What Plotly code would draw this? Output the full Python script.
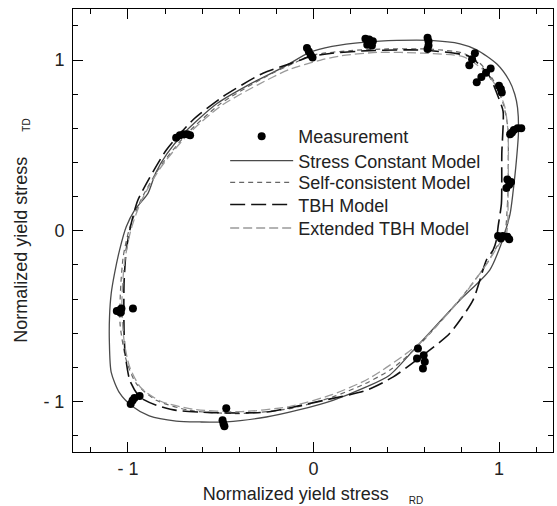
import plotly.graph_objects as go

# ---- data ----
meas_x = [-0.035, -0.025, -0.015, -0.005,
          0.28, 0.30, 0.32, 0.29, 0.315,
          0.615, 0.62, 0.62, 0.615,
          0.87, 0.855, 0.84,
          0.955, 0.93, 0.905, 0.88,
          1.00, 1.01, 1.015,
          1.06, 1.08, 1.10, 1.12, 1.07,
          1.045, 1.055, 1.04, 1.065,
          0.995, 1.01, 1.045, 1.055, 1.02,
          0.563, 0.558, 0.594, 0.60, 0.59,
          -0.47, -0.49, -0.485, -0.48,
          -0.985, -0.975, -0.965, -0.937,
          -1.06, -1.045, -1.035, -1.04, -0.973,
          -0.74, -0.72, -0.70, -0.68, -0.665]
meas_y = [1.07, 1.05, 1.03, 1.015,
          1.125, 1.12, 1.11, 1.09, 1.085,
          1.13, 1.11, 1.085, 1.065,
          1.04, 1.005, 0.97,
          0.95, 0.925, 0.90, 0.87,
          0.85, 0.83, 0.81,
          0.565, 0.59, 0.60, 0.60, 0.575,
          0.30, 0.27, 0.25, 0.285,
          -0.03, -0.045, -0.035, -0.05, -0.03,
          -0.69, -0.748, -0.729, -0.768, -0.807,
          -1.04, -1.11, -1.13, -1.145,
          -1.015, -0.995, -0.98, -0.968,
          -0.47, -0.465, -0.455, -0.48, -0.455,
          0.545, 0.56, 0.565, 0.565, 0.56]

scm_x = [1.035, 1.06, 1.075, 1.094, 1.105, 1.10, 1.085, 1.055, 0.99, 0.88, 0.79, 0.63, 0.45,
         0.28, 0.10, -0.02, -0.16, -0.34, -0.52, -0.70, -0.79, -0.85, -0.892, -0.935,
         -0.964, -1.009, -1.045, -1.072, -1.09, -1.099, -1.10, -1.09, -1.045, -0.975,
         -0.885, -0.74, -0.613, -0.47, -0.254, -0.074, 0.105, 0.285, 0.41, 0.555, 0.79,
         0.95, 1.013, 1.035]
scm_y = [0.0, 0.10, 0.22, 0.415, 0.58, 0.72, 0.80, 0.88, 0.975, 1.06, 1.095, 1.115, 1.115,
         1.105, 1.08, 1.045, 0.96, 0.86, 0.745, 0.57, 0.45, 0.34, 0.219, 0.16,
         0.121, 0.023, -0.113, -0.25, -0.367, -0.50, -0.65, -0.83, -0.95, -1.03,
         -1.085, -1.115, -1.12, -1.12, -1.091, -1.048, -0.993, -0.915, -0.846, -0.68, -0.406,
         -0.23, -0.074, 0.0]

sc_x = [1.031, 1.045, 1.049, 1.05, 1.049, 1.022, 0.968, 0.896, 0.806, 0.626, 0.40, 0.20,
        0.0, -0.10, -0.27, -0.50, -0.68, -0.83, -0.93, -0.99, -1.025, -1.04, -1.042,
        -1.009, -0.955, -0.847, -0.667, -0.398, -0.128, 0.10, 0.28, 0.42, 0.56, 0.79, 0.93,
        0.99, 1.031]
sc_y = [-0.015, 0.15, 0.258, 0.45, 0.591, 0.747, 0.884, 0.982, 1.04, 1.064, 1.065, 1.055,
        1.03, 0.985, 0.895, 0.745, 0.57, 0.37, 0.18, 0.02, -0.15, -0.35, -0.55,
        -0.758, -0.895, -0.993, -1.052, -1.071, -1.042, -0.975, -0.895, -0.81, -0.68, -0.40, -0.20,
        -0.09, -0.015]

tbh_x = [0.995, 1.013, 1.015, 1.022, 0.995, 0.95, 0.842, 0.59, 0.30, 0.10, -0.02, -0.092,
         -0.272, -0.488, -0.65, -0.793, -0.946, -0.982, -1.009, -1.021, -1.021, -1.015, -0.99,
         -0.937, -0.847, -0.739, -0.613, -0.488, -0.254, 0.07, 0.285, 0.43, 0.555, 0.734, 0.86,
         0.932, 0.968, 0.986, 0.995]
tbh_y = [0.023, 0.16, 0.45, 0.70, 0.786, 0.903, 1.02, 1.058, 1.055, 1.04, 1.02, 0.991,
         0.923, 0.786, 0.649, 0.473, 0.18, 0.043, -0.113, -0.309, -0.582, -0.72, -0.876,
         -0.974, -1.022, -1.052, -1.062, -1.067, -1.062, -0.99, -0.935, -0.856, -0.758, -0.602, -0.406,
         -0.172, -0.113, -0.055, 0.023]

etbh_x = [1.04, 1.049, 1.049, 1.031, 0.986, 0.914, 0.806, 0.59, 0.35, 0.15, 0.04, -0.13,
          -0.30, -0.50, -0.68, -0.83, -0.93, -0.985, -1.02, -1.033, -1.02, -0.99, -0.93,
          -0.82, -0.65, -0.40, -0.13, 0.10, 0.30, 0.57, 0.80, 0.93, 1.00, 1.04]
etbh_y = [-0.015, 0.258, 0.57, 0.727, 0.845, 0.943, 1.02, 1.04, 1.045, 1.025, 1.0, 0.945,
          0.855, 0.73, 0.56, 0.36, 0.17, 0.0, -0.20, -0.45, -0.65, -0.80, -0.92,
          -1.0, -1.045, -1.06, -1.03, -0.96, -0.865, -0.66, -0.39, -0.20, -0.08, -0.015]

major_ticks = [-1, 0, 1]
major_text = ["- 1", "0", "1"]
minor_ticks = [-1.2, -0.8, -0.6, -0.4, -0.2, 0.2, 0.4, 0.6, 0.8, 1.2]

# legend row centres (paper fraction of plot height)
legend_rows = [0.712, 0.657, 0.608, 0.558, 0.505]

FONT = "Liberation Sans, Arial, sans-serif"
TXT = "#222222"

fig = go.Figure()
fig.add_trace(go.Scatter(x=scm_x, y=scm_y, mode="lines", name="Stress Constant Model",
                         line=dict(color="#4a4a4a", width=1.3, shape="spline", smoothing=0.7),
                         legend="legend2"))
fig.add_trace(go.Scatter(x=sc_x, y=sc_y, mode="lines", name="Self-consistent Model",
                         line=dict(color="#666666", width=1.2, dash="5px,4px", shape="spline", smoothing=0.7),
                         legend="legend3"))
fig.add_trace(go.Scatter(x=tbh_x, y=tbh_y, mode="lines", name="TBH Model",
                         line=dict(color="#111111", width=1.6, dash="15px,6px", shape="spline", smoothing=0.6),
                         legend="legend4"))
fig.add_trace(go.Scatter(x=etbh_x, y=etbh_y, mode="lines", name="Extended TBH Model",
                         line=dict(color="#9a9a9a", width=1.3, dash="9px,4px", shape="spline", smoothing=0.7),
                         legend="legend5"))
fig.add_trace(go.Scatter(x=meas_x, y=meas_y, mode="markers", name="Measurement",
                         marker=dict(color="black", size=8),
                         legend="legend"))

axis_common = dict(
    showline=True, linecolor="black", linewidth=1, mirror="ticks",
    showgrid=False, zeroline=False, automargin=False,
    ticks="inside", ticklen=10, tickwidth=1, tickcolor="black",
    tickmode="array", tickvals=major_ticks, ticktext=major_text,
    tickfont=dict(family=FONT, size=18, color=TXT),
    minor=dict(tickmode="array", tickvals=minor_ticks, ticks="inside", ticklen=5,
               tickwidth=1, tickcolor="black", showgrid=False),
)

fig.update_xaxes(range=[-1.296, 1.291],
                 title=dict(text="Normalized yield stress&nbsp;&nbsp;&nbsp;&nbsp;<sub><span style='font-size:10px'>RD</span></sub>",
                            font=dict(family=FONT, size=18, color=TXT), standoff=14),
                 **axis_common)
fig.update_yaxes(range=[-1.296, 1.299],
                 title=dict(text="Normalized yield stress&nbsp;&nbsp;&nbsp;&nbsp;&nbsp;<sub><span style='font-size:10px'>TD</span></sub>",
                            font=dict(family=FONT, size=18, color=TXT), standoff=11),
                 ticklabelstandoff=4,
                 **axis_common)

legend_style = dict(x=0.317, xanchor="left", yanchor="middle",
                    bgcolor="rgba(0,0,0,0)", borderwidth=0, itemwidth=63,
                    font=dict(family=FONT, size=18, color=TXT))

fig.update_layout(
    width=557, height=506,
    margin=dict(l=73, r=4, t=9, b=54),
    paper_bgcolor="white", plot_bgcolor="white",
    font=dict(family=FONT, size=18, color=TXT),
    showlegend=True,
    legend=dict(y=legend_rows[0], **legend_style),
    legend2=dict(y=legend_rows[1], **legend_style),
    legend3=dict(y=legend_rows[2], **legend_style),
    legend4=dict(y=legend_rows[3], **legend_style),
    legend5=dict(y=legend_rows[4], **legend_style),
)

fig.write_html("out.html",
               config={"displayModeBar": False},
               post_script="document.body.style.margin='0';document.body.style.overflow='hidden';")
